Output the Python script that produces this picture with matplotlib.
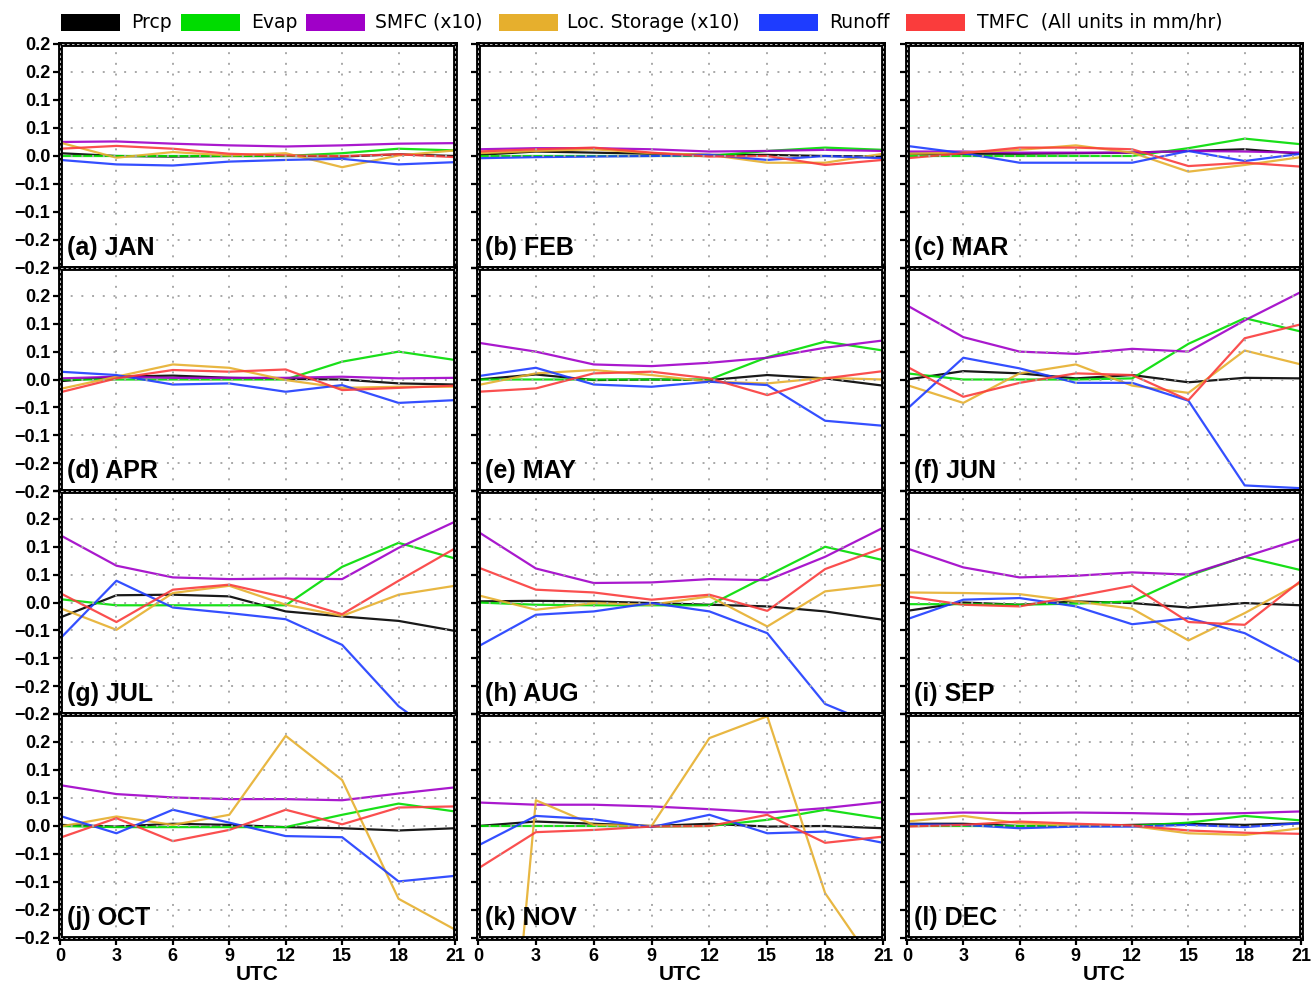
import matplotlib
matplotlib.use('Agg')
import matplotlib.pyplot as plt
from matplotlib.patches import Rectangle

# ---------------- data ----------------
HOURS = [0, 3, 6, 9, 12, 15, 18, 21]
MONTHS = ['JAN', 'FEB', 'MAR', 'APR', 'MAY', 'JUN',
          'JUL', 'AUG', 'SEP', 'OCT', 'NOV', 'DEC']
LETTERS = ['a', 'b', 'c', 'd', 'e', 'f', 'g', 'h', 'i', 'j', 'k', 'l']
YTICKS = [-0.2, -0.15, -0.1, -0.05, 0.0, 0.05, 0.1, 0.15, 0.2]
YTICK_LABELS = ['\u22120.2', '\u22120.2', '\u22120.1', '\u22120.1', '0.0',
                '0.1', '0.1', '0.2', '0.2']
XTICK_LABELS = ['0', '3', '6', '9', '12', '15', '18', '21']
SERIES_NAMES = ['Prcp', 'Evap', 'SMFC (x10)', 'Loc. Storage (x10)', 'Runoff',
                'TMFC  (All units in mm/hr)']
COLORS = ['#000000', '#00dc00', '#a000c8', '#e6af2d', '#1e3cff', '#fa3c3c']

PRCP = [
    [0.005, 0.000, -0.001, 0.000, 0.000, -0.001, 0.003, 0.000],
    [0.002, 0.008, 0.006, 0.004, 0.002, 0.002, 0.000, -0.001],
    [0.004, 0.004, 0.004, 0.005, 0.006, 0.009, 0.012, 0.004],
    [-0.003, 0.005, 0.007, 0.003, 0.001, 0.000, -0.007, -0.009],
    [0.000, 0.009, -0.001, 0.000, -0.001, 0.008, 0.002, -0.011],
    [0.000, 0.015, 0.011, 0.002, 0.008, -0.005, 0.003, 0.002],
    [-0.027, 0.013, 0.014, 0.011, -0.016, -0.025, -0.033, -0.051],
    [0.002, 0.003, 0.002, -0.001, -0.004, -0.007, -0.016, -0.031],
    [-0.015, 0.000, -0.004, 0.002, -0.001, -0.009, -0.001, -0.005],
    [0.002, -0.001, 0.004, 0.002, -0.002, -0.004, -0.008, -0.004],
    [0.000, 0.008, 0.004, 0.000, 0.004, -0.001, 0.000, -0.004],
    [0.004, 0.004, 0.000, 0.000, 0.002, 0.004, 0.002, 0.005],
]
EVAP = [
    [0.000, 0.000, 0.000, 0.000, 0.000, 0.005, 0.013, 0.010],
    [0.000, 0.000, 0.000, 0.000, 0.000, 0.009, 0.015, 0.011],
    [0.000, 0.000, 0.000, 0.000, 0.000, 0.014, 0.031, 0.021],
    [0.000, 0.000, 0.000, 0.000, 0.000, 0.032, 0.050, 0.035],
    [0.000, 0.000, 0.000, 0.000, 0.000, 0.040, 0.068, 0.052],
    [0.011, 0.000, 0.000, 0.000, 0.002, 0.064, 0.110, 0.086],
    [0.006, -0.005, -0.005, -0.005, -0.005, 0.064, 0.107, 0.079],
    [0.000, -0.004, -0.005, -0.005, -0.005, 0.048, 0.100, 0.076],
    [-0.003, -0.003, -0.004, -0.002, 0.002, 0.048, 0.082, 0.058],
    [0.000, -0.002, -0.002, -0.002, -0.002, 0.020, 0.040, 0.026],
    [0.000, 0.000, 0.000, -0.001, 0.000, 0.011, 0.029, 0.013],
    [0.000, 0.000, 0.000, 0.000, 0.000, 0.006, 0.018, 0.010],
]
SMFC = [
    [0.025, 0.026, 0.022, 0.019, 0.017, 0.019, 0.022, 0.023],
    [0.012, 0.014, 0.014, 0.012, 0.008, 0.009, 0.011, 0.009],
    [0.008, 0.008, 0.006, 0.006, 0.006, 0.009, 0.008, 0.006],
    [0.002, 0.005, 0.003, 0.003, 0.003, 0.005, 0.002, 0.003],
    [0.066, 0.050, 0.027, 0.024, 0.030, 0.039, 0.057, 0.070],
    [0.133, 0.076, 0.050, 0.046, 0.055, 0.050, 0.106, 0.157],
    [0.121, 0.066, 0.045, 0.042, 0.043, 0.042, 0.098, 0.145],
    [0.127, 0.061, 0.035, 0.036, 0.042, 0.040, 0.082, 0.134],
    [0.097, 0.063, 0.045, 0.048, 0.054, 0.050, 0.082, 0.114],
    [0.073, 0.057, 0.051, 0.048, 0.048, 0.046, 0.058, 0.069],
    [0.042, 0.038, 0.038, 0.035, 0.030, 0.024, 0.032, 0.043],
    [0.021, 0.024, 0.023, 0.024, 0.023, 0.021, 0.023, 0.026],
]
LSTO = [
    [0.024, -0.003, 0.007, 0.001, 0.005, -0.020, 0.001, 0.010],
    [0.005, 0.009, 0.012, 0.005, 0.002, -0.012, -0.012, 0.004],
    [0.004, 0.006, 0.011, 0.019, 0.006, -0.028, -0.016, -0.002],
    [-0.017, 0.005, 0.027, 0.021, -0.001, -0.015, -0.013, -0.013],
    [-0.010, 0.011, 0.017, 0.008, -0.004, -0.007, 0.003, 0.000],
    [-0.010, -0.042, 0.011, 0.027, -0.011, -0.024, 0.052, 0.027],
    [-0.010, -0.049, 0.017, 0.030, -0.004, -0.024, 0.014, 0.030],
    [0.013, -0.013, -0.001, -0.004, 0.011, -0.043, 0.020, 0.032],
    [0.018, 0.017, 0.015, 0.002, -0.011, -0.068, -0.019, 0.036],
    [-0.001, 0.017, 0.002, 0.020, 0.161, 0.082, -0.130, -0.185],
    [-1.090, 0.046, 0.002, 0.000, 0.157, 0.196, -0.120, -0.270],
    [0.008, 0.018, 0.005, 0.001, 0.000, -0.013, -0.016, -0.004],
]
RUNOFF = [
    [-0.007, -0.015, -0.017, -0.010, -0.007, -0.005, -0.015, -0.011],
    [-0.004, -0.002, -0.001, 0.000, 0.002, -0.007, 0.000, -0.004],
    [0.018, 0.005, -0.012, -0.012, -0.012, 0.009, -0.009, 0.004],
    [0.014, 0.008, -0.009, -0.007, -0.022, -0.010, -0.042, -0.037],
    [0.006, 0.021, -0.009, -0.013, -0.004, -0.010, -0.074, -0.083],
    [-0.053, 0.039, 0.020, -0.006, -0.006, -0.038, -0.190, -0.195],
    [-0.065, 0.039, -0.009, -0.019, -0.030, -0.076, -0.186, -0.260],
    [-0.079, -0.022, -0.016, -0.001, -0.016, -0.055, -0.182, -0.225],
    [-0.030, 0.005, 0.008, -0.007, -0.039, -0.028, -0.055, -0.108],
    [0.018, -0.013, 0.029, 0.006, -0.018, -0.020, -0.099, -0.089],
    [-0.035, 0.018, 0.012, -0.002, 0.020, -0.013, -0.010, -0.030],
    [0.003, 0.002, -0.004, -0.001, -0.001, 0.002, -0.002, 0.005],
]
TMFC = [
    [0.013, 0.018, 0.013, 0.004, 0.001, 0.000, 0.003, -0.002],
    [0.008, 0.012, 0.015, 0.006, -0.001, 0.000, -0.016, -0.007],
    [-0.004, 0.005, 0.015, 0.015, 0.012, -0.018, -0.012, -0.019],
    [-0.023, 0.002, 0.017, 0.014, 0.018, -0.019, -0.015, -0.011],
    [-0.022, -0.016, 0.011, 0.014, 0.002, -0.028, 0.002, 0.015],
    [0.023, -0.031, -0.006, 0.011, 0.008, -0.037, 0.074, 0.099],
    [0.017, -0.035, 0.023, 0.032, 0.009, -0.021, 0.039, 0.097],
    [0.063, 0.023, 0.018, 0.005, 0.014, -0.015, 0.060, 0.098],
    [0.011, -0.004, -0.007, 0.011, 0.030, -0.035, -0.040, 0.039],
    [-0.021, 0.014, -0.027, -0.007, 0.029, 0.003, 0.033, 0.035],
    [-0.076, -0.011, -0.007, -0.001, 0.000, 0.020, -0.030, -0.019],
    [-0.001, 0.002, 0.008, 0.004, 0.001, -0.008, -0.012, -0.014],
]
SERIES = [PRCP, EVAP, SMFC, LSTO, RUNOFF, TMFC]

# ---------------- layout ----------------
W, H = 1313, 984
fig = plt.figure(figsize=(W / 100, H / 100), dpi=100)
fig.patch.set_facecolor('white')

COL_X = [(60, 455), (478, 883), (907, 1301)]
ROW_Y = [44, 268, 491, 714, 938]
TICKFONT = dict(family='Liberation Sans', weight='bold', size=13)

for i in range(12):
    r, c = divmod(i, 3)
    x0, x1 = COL_X[c]
    y0, y1 = ROW_Y[r], ROW_Y[r + 1]
    ax = fig.add_axes([x0 / W, 1 - y1 / H, (x1 - x0) / W, (y1 - y0) / H])
    for s, col in zip(SERIES, COLORS):
        ax.plot(HOURS, s[i], color=col, lw=1.6, alpha=0.9, zorder=2)
    ax.set_xlim(0, 21)
    ax.set_ylim(-0.2, 0.2)
    ax.set_xticks(HOURS)
    ax.set_yticks(YTICKS)
    ax.set_axisbelow(False)
    ax.grid(True, color='#a8a8a8', linestyle=(0, (1, 4.5)), linewidth=1.4)
    ax.tick_params(direction='out', length=5, width=1.6, pad=2, color='black')
    if c == 0:
        labs = list(YTICK_LABELS)
        if r > 0:
            labs[-1] = ''
        ax.set_yticklabels(labs, fontdict=TICKFONT)
    else:
        ax.set_yticklabels([])
    if r == 3:
        ax.set_xticklabels(XTICK_LABELS, fontdict=TICKFONT)
        ax.set_xlabel('UTC', family='Liberation Sans', weight='bold',
                      size=15, labelpad=0)
    else:
        ax.set_xticklabels([])
    for sp in ax.spines.values():
        sp.set_linewidth(3.5)
        sp.set_color('black')
        sp.set_zorder(4)
    ax.add_patch(Rectangle((0, 0), 1, 1, transform=ax.transAxes, fill=False,
                           ec='#dddddd', lw=0.6, ls=(0, (3, 3)),
                           clip_on=False, zorder=5))
    ax.text(0.018, 0.036, '(%s) %s' % (LETTERS[i], MONTHS[i]),
            transform=ax.transAxes, ha='left', va='bottom',
            family='Liberation Sans', weight='bold', size=18, zorder=6)

# ---------------- legend ----------------
RECT_X = [61, 181, 306, 499, 759, 906]
TEXT_X = [131, 251, 375, 567, 829, 977]
for rx, tx, name, col in zip(RECT_X, TEXT_X, SERIES_NAMES, COLORS):
    fig.add_artist(Rectangle((rx / W, 1 - 31 / H), 59 / W, 17 / H,
                             transform=fig.transFigure, color=col, lw=0))
    fig.text(tx / W, 1 - 22 / H, name, ha='left', va='center',
             family='DejaVu Sans', size=13.5)

fig.savefig('out.png', dpi=100)
